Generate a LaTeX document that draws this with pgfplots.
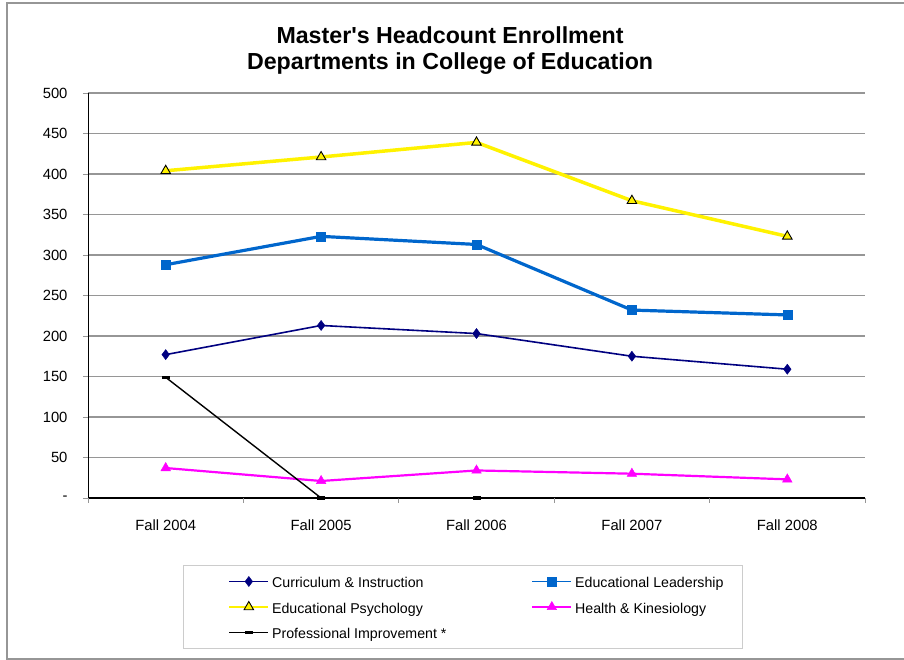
\documentclass[border=0pt]{standalone}
\usepackage{pgfplots}
\pgfplotsset{compat=1.18}
\usepackage{fontspec}
\setmainfont{Liberation Sans}[Ligatures=TeXOff]
\definecolor{ciNavy}{RGB}{0,0,128}
\definecolor{elBlue}{RGB}{0,102,204}
\definecolor{hkPink}{RGB}{255,0,255}
\definecolor{gridGray}{RGB}{150,150,150}
\definecolor{frameGray}{RGB}{150,150,150}

\begin{document}
\begin{tikzpicture}[x=1pt,y=1pt]
\begin{axis}[
  scale only axis, width=777pt, height=405pt,
  xmin=0.5, xmax=5.5, ymin=0, ymax=500,
  clip=false,
  axis x line*=bottom, axis y line*=left,
  axis line style={black, line width=1pt},
  xtick={1,2,3,4,5},
  xticklabels={Fall 2004,Fall 2005,Fall 2006,Fall 2007,Fall 2008},
  x tick style={draw=none},
  extra x ticks={0.5,1.5,2.5,3.5,4.5,5.5},
  extra x tick labels={},
  extra x tick style={grid=none, x tick style={draw=gridGray, line width=0.8pt}},
  ytick={0,50,...,500},
  yticklabels={-,50,100,150,200,250,300,350,400,450,500},
  y tick style={draw=gridGray, line width=0.8pt},
  tick align=outside, major tick length=5pt,
  ymajorgrids, grid style={gridGray, line width=1.3pt},
  tick label style={font=\fontsize{14.8}{17}\selectfont},
  yticklabel style={xshift=-12pt},
  xticklabel style={yshift=-13pt},
  title={Master's Headcount Enrollment\\Departments in College of Education},
  title style={font=\bfseries\fontsize{23.2}{26}\selectfont, align=center,
    at={(axis description cs:0.466,1.089)}, anchor=center},
  legend columns=2,
  legend cell align=left,
  legend image code/.code={
    \path (-29pt,0pt);
    \draw[mark repeat=2,mark phase=2] plot coordinates {(0pt,0pt) (19.5pt,0pt) (39pt,0pt)};},
  legend image post style={line width=1.6pt},
  legend style={at={(axis description cs:0.1223,-0.1654)}, anchor=north west,
    draw=black!20, line width=1pt, inner xsep=16pt, inner ysep=9.5pt,
    row sep=12.5pt, font=\fontsize{14.2}{16}\selectfont,
    nodes={inner ysep=0pt, inner xsep=3pt, text height=13pt, text depth=0pt},
    /tikz/column 2/.style={column sep=53pt}},
]
\addplot[ciNavy, line width=1.6pt, mark=diamond*, mark size=5pt,
  mark options={fill=ciNavy, line width=0.5pt}]
  coordinates {(1,177) (2,213) (3,203) (4,175) (5,159)};
\addlegendentry{Curriculum \& Instruction}
\addplot[elBlue, line width=3.2pt, mark=square*, mark size=4.5pt,
  mark options={fill=elBlue, line width=0.5pt}]
  coordinates {(1,288) (2,323) (3,313) (4,232) (5,226)};
\addlegendentry{Educational Leadership}
\addplot[yellow, line width=3.5pt, mark=triangle*, mark size=5.5pt,
  mark options={fill=yellow, draw=black, line width=0.9pt}]
  coordinates {(1,404) (2,421) (3,439) (4,367) (5,323)};
\addlegendentry{Educational Psychology}
\addplot[hkPink, line width=2.2pt, mark=triangle*, mark size=5.5pt,
  mark options={fill=hkPink, line width=0.5pt}]
  coordinates {(1,37) (2,21) (3,34) (4,30) (5,23)};
\addlegendentry{Health \& Kinesiology}
\addplot[black, line width=1.4pt, mark=-, mark size=4pt,
  mark options={line width=3pt}]
  coordinates {(1,149) (2,0) (3,0)};
\addlegendentry{Professional Improvement *}
\coordinate (pa) at (rel axis cs:0,0);
\end{axis}
\path ([shift={(-88pt,-162pt)}]pa) coordinate (o);
\pgfresetboundingbox
\useasboundingbox (o) rectangle ++(904pt,660pt);
\begin{scope}[shift={(o)}]
\draw[frameGray, line width=1.5pt] (910,1) -- (7,1) -- (7,657) -- (910,657);
\end{scope}
\end{tikzpicture}
\end{document}
